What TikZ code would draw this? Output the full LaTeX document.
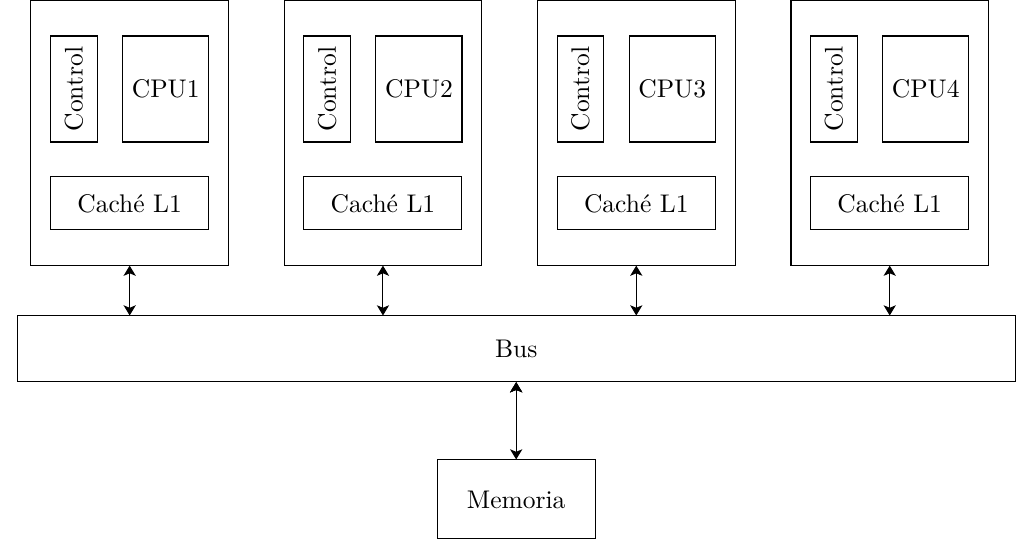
\documentclass[tikz,border=0pt]{standalone}
\usepackage{tikz}
\usetikzlibrary{arrows.meta}

\begin{document}
\begin{tikzpicture}
\tikzstyle{every node}=[draw,rectangle,inner sep=0pt]
\tikzstyle{proc}=[minimum width=2.72cm,minimum height=3.64cm]
\tikzstyle{ctrl}=[rotate=90,minimum width=1.46cm,minimum height=0.64cm]
\tikzstyle{cpu}=[minimum width=1.185cm,minimum height=1.46cm]
\tikzstyle{cache}=[minimum width=2.176cm,minimum height=0.73cm]
\useasboundingbox (0,0) rectangle (14.215,7.576);
\path
 (1.786,5.744) node[proc] (p1) {}
 ++(-0.769,0.606) node[ctrl] (c1) {Control}
 ++(1.265,0) node[cpu] (u1) {CPU1}
 ++(-0.496,-1.577) node[cache] (l1) {Cach\'e L1}
 ;
\path
 (5.275,5.744) node[proc] (p2) {}
 ++(-0.769,0.606) node[ctrl] (c2) {Control}
 ++(1.265,0) node[cpu] (u2) {CPU2}
 ++(-0.496,-1.577) node[cache] (l2) {Cach\'e L1}
 ;
\path
 (8.764,5.744) node[proc] (p3) {}
 ++(-0.769,0.606) node[ctrl] (c3) {Control}
 ++(1.265,0) node[cpu] (u3) {CPU3}
 ++(-0.496,-1.577) node[cache] (l3) {Cach\'e L1}
 ;
\path
 (12.255,5.744) node[proc] (p4) {}
 ++(-0.769,0.606) node[ctrl] (c4) {Control}
 ++(1.265,0) node[cpu] (u4) {CPU4}
 ++(-0.496,-1.577) node[cache] (l4) {Cach\'e L1}
 ;
\path
 (7.11,2.771) node[minimum width=13.742cm,minimum height=0.905cm] (bus) {Bus}
 ++(0,-2.075) node[minimum width=2.18cm,minimum height=1.088cm] (mem) {Memoria}
 ;
\path[<->,draw,>={Stealth[length=4pt,width=4.8pt,inset=1pt]}]
(p1.south) edge (p1.south |- bus.north)
(p2.south) edge (p2.south |- bus.north)
(p3.south) edge (p3.south |- bus.north)
(p4.south) edge (p4.south |- bus.north)
(bus.south) edge (mem.north)
;
\end{tikzpicture}
\end{document}
